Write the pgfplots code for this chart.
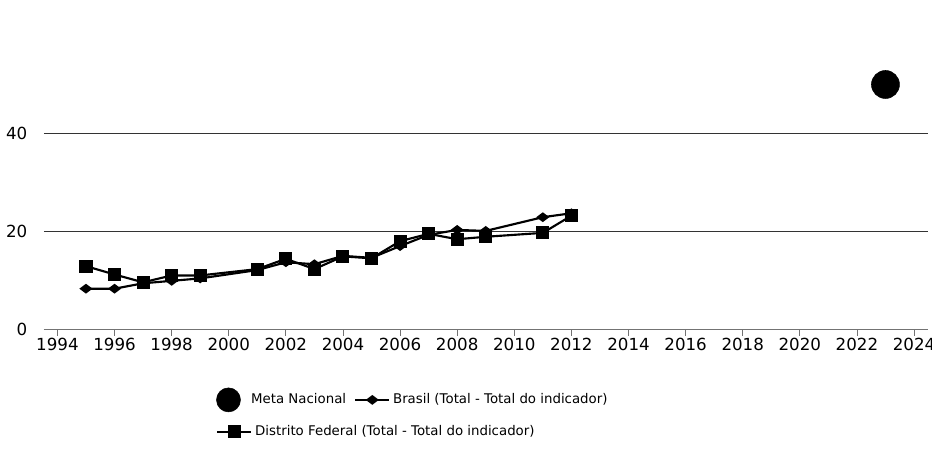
\documentclass[border=0pt]{standalone}
\usepackage{pgfplots}
\pgfplotsset{compat=1.18}
\usepackage{fontspec}
\setmainfont{DejaVu Sans}

\pgfplotsset{
  longline/.style={legend image code/.code={
    \draw[mark repeat=2, mark phase=2, ##1] plot coordinates {(0cm,0cm) (0.45cm,0cm) (0.9cm,0cm)};}},
}
\begin{document}
\begin{tikzpicture}
\useasboundingbox (-33pt,-90pt) rectangle (666pt,247pt);
\begin{axis}[
  at={(0,0)}, anchor=south west,
  scale only axis, width=663pt, height=202pt,
  xmin=1993.53, xmax=2024.49, ymin=0, ymax=55,
  axis lines=left,
  axis y line*=left,
  y axis line style={draw=none},
  x axis line style={draw=black!55, line width=0.6pt, -},
  xtick={1994,1996,...,2024},
  ytick={0,20,40},
  ymajorgrids,
  grid style={black!80, line width=1pt},
  tick align=outside,
  major tick length=5pt,
  xtick style={draw=black!55, line width=0.6pt},
  ytick style={draw=none},
  x tick label style={/pgf/number format/1000 sep={}, font=\fontsize{12.5}{14}\selectfont, yshift=2pt},
  y tick label style={font=\fontsize{12.5}{14}\selectfont, xshift=-4pt},
  /pgf/number format/assume math mode=true,
  clip=false,
  legend style={draw=none, at={(0.19,-0.262)}, anchor=west, font=\fontsize{10}{12}\selectfont,
    /tikz/every even column/.append style={column sep=4pt}},
  legend columns=-1,
  legend cell align=left,
]
\addplot[only marks, mark=*, mark size=10.5pt, black,
  legend image code/.code={\fill[black] (9pt,0pt) circle (9pt); \path[draw=none, fill=none] (0pt,0pt) rectangle (24pt,0.1pt);}] coordinates {(2023,50)};
\addlegendentry{Meta Nacional}
\addplot[black, line width=1.6pt, mark=diamond*, mark size=3.6pt, mark options={rotate=90}, longline] coordinates {
(1995,8.3) (1996,8.3) (1997,9.4) (1998,9.9) (1999,10.4) (2001,12.1) (2002,13.7) (2003,13.3)
(2004,15.0) (2005,14.6) (2006,17.0) (2007,19.3) (2008,20.3) (2009,20.1) (2011,22.9) (2012,23.7)};
\addlegendentry{Brasil (Total - Total do indicador)}
\addplot[black, line width=1.6pt, mark=square*, mark size=4.1pt, forget plot] coordinates {
(1995,12.9) (1996,11.2) (1997,9.6) (1998,11.0) (1999,11.0) (2001,12.3) (2002,14.4) (2003,12.3)
(2004,14.9) (2005,14.5) (2006,18.0) (2007,19.5) (2008,18.4) (2009,18.9) (2011,19.7) (2012,23.2)};
\end{axis}
\begin{axis}[
  at={(0,0)}, anchor=south west,
  scale only axis, width=663pt, height=202pt,
  xmin=0, xmax=1, ymin=0, ymax=1,
  hide axis,
  legend style={draw=none, at={(0.19,-0.38)}, anchor=west, font=\fontsize{10}{12}\selectfont},
]
\addlegendimage{black, line width=1.6pt, mark=square*, mark size=4.1pt, longline}
\addlegendentry{Distrito Federal (Total - Total do indicador)}
\end{axis}
\end{tikzpicture}
\end{document}
